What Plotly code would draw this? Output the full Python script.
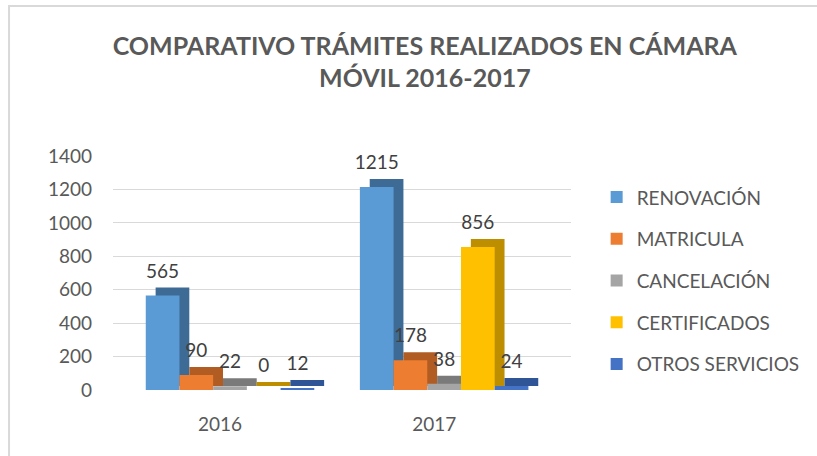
import plotly.graph_objects as go

years = ["2016", "2017"]
series_names = ["RENOVACIÓN", "MATRICULA", "CANCELACIÓN", "CERTIFICADOS", "OTROS SERVICIOS"]
renovacion = [565, 1215]
matricula = [90, 178]
cancelacion = [22, 38]
certificados = [0, 856]
otros = [12, 24]
y_ticks = [0, 200, 400, 600, 800, 1000, 1200, 1400]

series_values = [renovacion, matricula, cancelacion, certificados, otros]
front_colors = ["#5B9BD5", "#ED7D31", "#A5A5A5", "#FFC000", "#4472C4"]
side_colors = ["#3D6B96", "#B05C22", "#7A7A7A", "#BD8E00", "#2F5597"]

TXT = "#595959"
FONT = "Lato, 'Open Sans', sans-serif"

bar_w = 0.1574
start = -0.347
depth_x = 0.046
depth_y = 48
label_lift = 66

fig = go.Figure()

# depth (3D side/top) faces first
for i, (name, vals) in enumerate(zip(series_names, series_values)):
    off = start + i * bar_w
    fig.add_trace(go.Bar(
        x=years, y=[v + depth_y * 0.5 for v in vals], base=depth_y * 0.5,
        offset=off + depth_x, width=bar_w,
        marker=dict(color=side_colors[i], line=dict(width=0)),
        showlegend=False, hoverinfo="skip", legendgroup=name,
    ))

# front faces
for i, (name, vals) in enumerate(zip(series_names, series_values)):
    off = start + i * bar_w
    fig.add_trace(go.Bar(
        x=years, y=vals, name=name, offset=off, width=bar_w,
        marker=dict(color=front_colors[i], line=dict(width=0)),
        legendgroup=name,
    ))

# data labels
for i, (name, vals) in enumerate(zip(series_names, series_values)):
    off = start + i * bar_w
    fig.add_trace(go.Bar(
        x=years, y=[v + label_lift for v in vals], base=0,
        offset=off, width=bar_w,
        marker=dict(color="rgba(0,0,0,0)", line=dict(width=0)),
        text=[str(v) for v in vals], textposition="outside",
        constraintext="none",
        textfont=dict(family=FONT, size=19, color="#404040"),
        cliponaxis=False, showlegend=False, hoverinfo="skip", legendgroup=name,
    ))

fig.update_layout(
    width=817, height=456,
    barmode="overlay",
    paper_bgcolor="white", plot_bgcolor="white",
    margin=dict(l=113, r=242, t=156, b=66),
    font=dict(family=FONT, color=TXT),
    title=dict(
        text="<b>COMPARATIVO TRÁMITES REALIZADOS EN CÁMARA<br>MÓVIL 2016-2017</b>",
        x=0.52, xanchor="center", xref="container",
        y=0.88, yanchor="top", yref="container",
        font=dict(family=FONT, size=25, color=TXT),
    ),
    xaxis=dict(
        type="category", range=[-0.5, 1.639], showgrid=False, showline=False,
        zeroline=False, ticks="outside", ticklen=17, tickcolor="rgba(0,0,0,0)",
        tickfont=dict(family=FONT, size=19, color=TXT),
    ),
    yaxis=dict(
        range=[0, 1400], tickvals=y_ticks, showgrid=True, gridcolor="#D9D9D9",
        gridwidth=1, zeroline=False, showline=False, ticks="",
        ticklabelstandoff=20,
        tickfont=dict(family=FONT, size=19, color=TXT),
    ),
    legend=dict(
        x=1.056, xanchor="left", y=0.905, yanchor="top",
        font=dict(family=FONT, size=19, color=TXT),
        tracegroupgap=14, itemwidth=30, bgcolor="rgba(0,0,0,0)",
    ),
    shapes=[dict(
        type="rect", xref="paper", yref="paper",
        x0=-0.227, x1=2.0, y0=-1.0, y1=1.641,
        line=dict(color="#D9D9D9", width=2), fillcolor="rgba(0,0,0,0)",
        layer="below",
    )],
)

fig.write_html(
    "out.html",
    config={"displayModeBar": False},
    post_script="document.body.style.margin='0';document.body.style.overflow='hidden';",
)
